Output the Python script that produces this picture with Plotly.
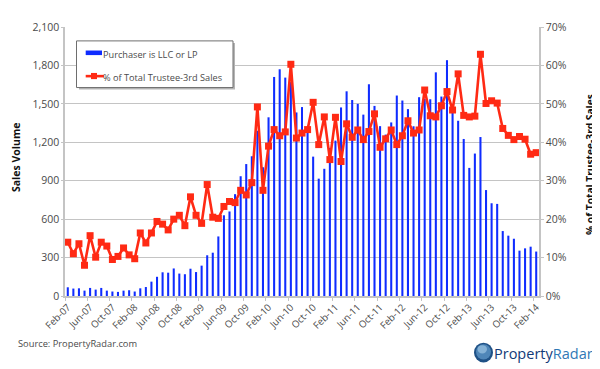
import pandas as pd
import plotly.graph_objects as go

months = [d.strftime("%b-%y") for d in pd.date_range("2007-02-01", "2014-02-01", freq="MS")]

purchaser_llc_lp = [
    68, 58, 60, 42, 63, 50, 63, 42, 35, 32, 42, 45, 35, 60, 70, 112, 150, 185, 182, 215,
    175, 170, 213, 187, 237, 318, 338, 465, 630, 660, 795, 935, 1030, 1091, 1290, 1005, 1395,
    1710, 1770, 1705, 1670, 1433, 1475, 1286, 1088, 916, 993, 1156, 1213, 1472, 1598, 1530,
    1500, 1416, 1653, 1484, 1326, 1260, 1355, 1565, 1526, 1459, 1325, 1552, 1540, 1536, 1746,
    1557, 1841, 1440, 1368, 1226, 1000, 1112, 1241, 827, 724, 719, 507, 471, 447, 354, 372,
    385, 347,
]
pct_trustee = [
    14.0, 11.0, 13.6, 8.0, 15.7, 10.1, 14.0, 13.0, 9.5, 10.3, 12.5, 10.7, 9.7, 16.4, 13.8, 16.4,
    19.4, 18.7, 17.2, 20.0, 21.0, 18.3, 25.8, 21.0, 18.9, 29.0, 20.5, 20.2, 23.3, 24.6, 24.3,
    27.5, 26.3, 29.5, 49.2, 27.5, 39.0, 43.3, 41.7, 42.7, 60.3, 41.1, 42.4, 43.3, 50.4, 39.4,
    46.6, 35.5, 46.5, 35.0, 44.8, 41.3, 43.2, 40.7, 42.8, 47.4, 38.7, 40.9, 43.2, 39.4, 41.7,
    45.6, 42.4, 43.2, 53.6, 46.9, 46.6, 49.5, 53.2, 48.4, 57.8, 47.0, 46.6, 46.8, 62.9, 50.1,
    50.8, 50.2, 43.6, 41.8, 40.7, 41.5, 40.8, 36.9, 37.3,
]
left_ticks = [0, 300, 600, 900, 1200, 1500, 1800, 2100]
right_ticks = [0, 10, 20, 30, 40, 50, 60, 70]
right_labels = ["0%", "10%", "20%", "30%", "40%", "50%", "60%", "70%"]

# The page adds an 8px body margin: L, R, T, B are page pixels, the figure is 8px smaller.
PAGE_W, PAGE_H, BODY = 600, 369, 8
L, R, T, B = 65, 539, 25, 296
FONT = "Open Sans"
BLUE = "#0f2cff"
RED = "#ff2a14"
GRID = "#c4c4c4"
TICK = "#4a4a4a"


def px(x):
    return (x - L) / (R - L)


def py(y):
    return (B - y) / (B - T)


def rect(x0, y0, x1, y1, fill, line=None, width=0, kind="rect"):
    return dict(type=kind, xref="paper", yref="paper", x0=px(x0), x1=px(x1), y0=py(y1), y1=py(y0),
                fillcolor=fill, line=dict(color=line or fill, width=width), layer="above")


def label(x, y, text, size, color=TICK, anchor="left", family=FONT, angle=0):
    return dict(xref="paper", yref="paper", x=px(x), y=py(y), text=text, showarrow=False, xanchor=anchor,
                yanchor="middle", textangle=angle, xshift=-3 if anchor == "left" else 0,
                font=dict(family=family, size=size, color=color))


fig = go.Figure()
fig.add_bar(x=months, y=purchaser_llc_lp, name="Purchaser is LLC or LP", marker=dict(color=BLUE, line_width=0),
            yaxis="y", showlegend=False)
fig.add_scatter(x=months, y=pct_trustee, name="% of Total Trustee-3rd Sales", yaxis="y2", mode="lines+markers",
                line=dict(color=RED, width=2.6), marker=dict(symbol="square", size=7, color=RED), showlegend=False)

shapes = [
    rect(79, 41, 235, 88, "#b5b5b5"),
    rect(76.5, 39, 233, 86, "white", "#6e6e6e", 1),
    rect(85.7, 48.7, 102, 53.3, BLUE),
    dict(type="line", xref="paper", yref="paper", x0=px(85.7), x1=px(104), y0=py(74.5), y1=py(74.5),
         line=dict(color=RED, width=2.6), layer="above"),
    rect(91, 71.3, 97, 77.5, RED),
    rect(474, 343, 493, 363, "#1f5186", kind="circle"),
    rect(476, 344.5, 491, 360, "#4f86b8", kind="circle"),
    rect(477.5, 345.5, 487, 354, "#86b2d6", kind="circle"),
]
logo_text = "<span style='color:#123a78'>Property</span><span style='color:#2f78b5'>Radar</span>"
annotations = [
    label(104.3, 52.3, "Purchaser is LLC or LP", 9.2),
    label(104.3, 75.5, "% of Total Trustee-3rd Sales", 9.2),
    label(19, 344, "Source: PropertyRadar.com", 9.3),
    label(495, 354, logo_text, 14.5, "#123a78"),
    label(16, 157, "<b>Sales Volume</b>", 10.5, "#111111", anchor="center", angle=-90),
    label(590, 164, "<b>% of Total Trustee-3rd Sales</b>", 10.2, "#111111", anchor="center", angle=-90),
]

fig.update_layout(
    width=PAGE_W - BODY, height=PAGE_H - BODY, paper_bgcolor="white", plot_bgcolor="white",
    margin=dict(l=L - BODY, r=PAGE_W - R, t=T - BODY, b=PAGE_H - B, pad=0),
    bargap=0.63, showlegend=False, shapes=shapes, annotations=annotations,
    font=dict(family=FONT, size=10.5, color=TICK),
    xaxis=dict(type="category", categoryorder="array", categoryarray=months, range=[-0.5, 84.5], tickangle=-45,
               dtick=4, tickson="boundaries", ticks="outside", ticklen=3, tickcolor=GRID, showline=True,
               linecolor=GRID, linewidth=1.5, showgrid=False, tickfont=dict(size=9.7, color=TICK)),
    yaxis=dict(range=[0, 2100], tickvals=left_ticks, tickformat=",d", showgrid=True, gridcolor=GRID, gridwidth=1.2,
               showline=True, linecolor=GRID, linewidth=1.5, ticks="outside", ticklen=2, tickcolor=GRID,
               zeroline=False, tickfont=dict(size=10.5, color=TICK)),
    yaxis2=dict(range=[0, 70], tickvals=right_ticks, ticktext=right_labels, overlaying="y", side="right",
                showgrid=False, showline=True, linecolor=GRID, linewidth=1.5, ticks="outside", ticklen=3,
                tickcolor=GRID, zeroline=False, tickfont=dict(size=10.5, color=TICK)),
)

fig.write_html("out.html")
